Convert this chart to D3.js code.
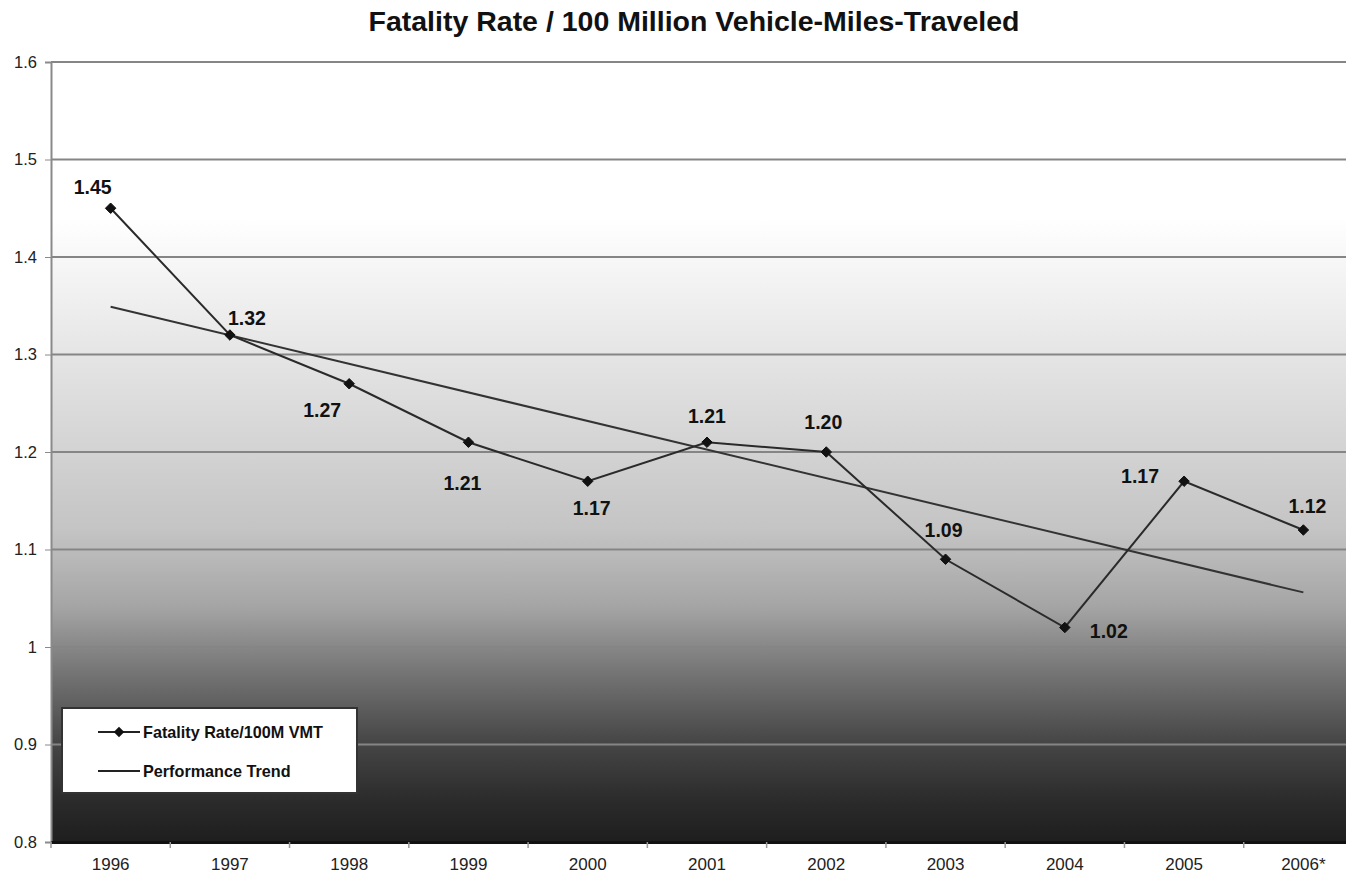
<!DOCTYPE html>
<html>
<head>
<meta charset="utf-8">
<script src="https://d3js.org/d3.v7.min.js"></script>
<style>
  html, body { margin: 0; padding: 0; background: #fff; }
  svg { display: block; font-family: "Liberation Sans", Arial, sans-serif; }
</style>
</head>
<body>
<svg id="chart" width="1346" height="883"></svg>
<script>
// ---- data ----
const years = ["1996","1997","1998","1999","2000","2001","2002","2003","2004","2005","2006*"];
const fatalityRate = [1.45, 1.32, 1.27, 1.21, 1.17, 1.21, 1.20, 1.09, 1.02, 1.17, 1.12];
const rateLabels = ["1.45","1.32","1.27","1.21","1.17","1.21","1.20","1.09","1.02","1.17","1.12"];
const trendEnds = [1.349, 1.056];   // performance trend at first and last year
const yTicks = [0.8, 0.9, 1.0, 1.1, 1.2, 1.3, 1.4, 1.5, 1.6];
const yTickLabels = ["0.8","0.9","1","1.1","1.2","1.3","1.4","1.5","1.6"];
const seriesNames = ["Fatality Rate/100M VMT", "Performance Trend"];
const title = "Fatality Rate / 100 Million Vehicle-Miles-Traveled";

// label placement (dx, dy of baseline) relative to each point
const labelPlacement = [[-18,-14],[17,-10],[-27,33],[-6,48],[4,34],[0,-19],[-3,-23],[-2,-22],[44,10],[-44,2],[4,-17]];

// ---- layout ----
const svg = d3.select("#chart");
const L = 51, R = 1363, T = 62, B = 842;

const x = d3.scaleBand().domain(years).range([L, R]).padding(0);
const y = d3.scaleLinear().domain([0.8, 1.6]).range([B, T]);
const cx = d => x(d) + x.bandwidth() / 2;

// background gradient
const defs = svg.append("defs");
const grad = defs.append("linearGradient").attr("id", "bg")
  .attr("x1", 0).attr("y1", 0).attr("x2", 0).attr("y2", 1);
[[0,"#ffffff"],[0.20,"#ffffff"],[0.30,"#f0f0f0"],[0.45,"#dadada"],[0.60,"#c4c4c4"],
 [0.70,"#a4a4a4"],[0.78,"#767676"],[0.87,"#474747"],[0.95,"#2a2a2a"],[1,"#1e1e1e"]]
  .forEach(([o,c]) => grad.append("stop").attr("offset", o).attr("stop-color", c));

svg.append("rect").attr("x", L).attr("y", T).attr("width", R - L).attr("height", B - T)
  .attr("fill", "url(#bg)");

// gridlines
svg.append("g").selectAll("line").data(yTicks.filter(v => v > 0.8)).join("line")
  .attr("x1", L).attr("x2", R)
  .attr("y1", d => y(d)).attr("y2", d => y(d))
  .attr("stroke", "#858585").attr("stroke-width", 2);

// y axis
const yAxis = d3.axisLeft(y).tickValues(yTicks)
  .tickFormat((d, i) => yTickLabels[i]).tickSize(6).tickPadding(8);
const gy = svg.append("g").attr("transform", `translate(${L},0)`).call(yAxis);
gy.select(".domain").attr("stroke", "#8a8a8a").attr("stroke-width", 2);
gy.selectAll(".tick line").attr("stroke", "#8a8a8a");
gy.selectAll(".tick text").attr("font-size", 16.5).attr("fill", "#222")
  .attr("font-family", "'Liberation Sans', Arial, sans-serif");

// x axis
const xAxis = d3.axisBottom(x).tickSize(0).tickPadding(16);
const gx = svg.append("g").attr("transform", `translate(0,${B})`).call(xAxis);
gx.select(".domain").attr("stroke", "#111").attr("stroke-width", 3);
gx.selectAll(".tick text").attr("font-size", 17).attr("fill", "#222")
  .attr("font-family", "'Liberation Sans', Arial, sans-serif");
// boundary tick marks
svg.append("g").selectAll("line").data(years).join("line")
  .attr("x1", d => x(d)).attr("x2", d => x(d))
  .attr("y1", B).attr("y2", B + 6)
  .attr("stroke", "#999").attr("stroke-width", 1.5);

// trend line
const first = years[0], last = years[years.length - 1];
svg.append("line")
  .attr("x1", cx(first)).attr("y1", y(trendEnds[0]))
  .attr("x2", cx(last)).attr("y2", y(trendEnds[1]))
  .attr("stroke", "#333").attr("stroke-width", 2);

// rate line
const line = d3.line().x((d, i) => cx(years[i])).y(d => y(d));
svg.append("path").datum(fatalityRate).attr("d", line)
  .attr("fill", "none").attr("stroke", "#2a2a2a").attr("stroke-width", 2);

const diamond = d3.symbol().type(d3.symbolDiamond2).size(70);
svg.append("g").selectAll("path").data(fatalityRate).join("path")
  .attr("d", diamond)
  .attr("transform", (d, i) => `translate(${cx(years[i])},${y(d)})`)
  .attr("fill", "#111").attr("stroke", "#111").attr("stroke-width", 1);

// data labels
svg.append("g").selectAll("text").data(fatalityRate).join("text")
  .attr("x", (d, i) => cx(years[i]) + labelPlacement[i][0])
  .attr("y", (d, i) => y(d) + labelPlacement[i][1])
  .attr("text-anchor", "middle")
  .attr("font-size", 19.5).attr("font-weight", "bold").attr("fill", "#111")
  .text((d, i) => rateLabels[i]);

// title
svg.append("text").attr("x", 694).attr("y", 31)
  .attr("text-anchor", "middle").attr("font-size", 28.5).attr("font-weight", "bold")
  .attr("fill", "#111").text(title);

// legend
const lg = svg.append("g").attr("transform", "translate(62,708)");
lg.append("rect").attr("width", 295).attr("height", 85)
  .attr("fill", "#fff").attr("stroke", "#333").attr("stroke-width", 2);
const ly = [24, 63];
seriesNames.forEach((name, i) => {
  lg.append("line").attr("x1", 36).attr("x2", 78).attr("y1", ly[i]).attr("y2", ly[i])
    .attr("stroke", "#222").attr("stroke-width", 2);
  if (i === 0) {
    lg.append("path").attr("d", diamond).attr("transform", `translate(57,${ly[i]})`)
      .attr("fill", "#111");
  }
  lg.append("text").attr("x", 81).attr("y", ly[i] + 6)
    .attr("font-size", 16.2).attr("font-weight", "bold").attr("fill", "#111")
    .text(name);
});
</script>
</body>
</html>
